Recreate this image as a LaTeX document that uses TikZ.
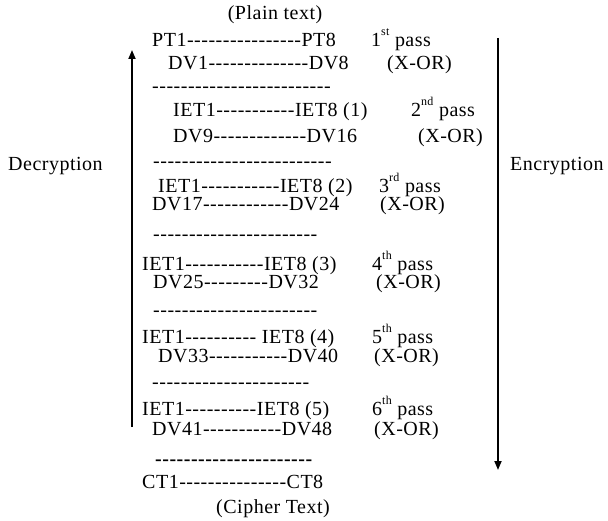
\documentclass[tikz,border=0pt]{standalone}
\usepackage{fontspec}
\newfontfamily\tnr[LetterSpace=2.5]{Liberation Serif}
\usetikzlibrary{arrows.meta}
\newcommand{\sps}[1]{\raisebox{0.55em}{\fontsize{12}{12}\selectfont #1}}
\tikzset{
  txt/.style={anchor=base west, inner sep=0pt, font=\fontsize{20}{22}\selectfont\tnr},
  ctxt/.style={anchor=base, inner sep=0pt, font=\fontsize{20}{22}\selectfont\tnr},
  flow/.style={line width=1.8pt, -{Triangle[length=9pt,width=7pt]}}
}
\begin{document}
\begin{tikzpicture}[x=1pt,y=-1pt]
\useasboundingbox (0,0) rectangle (608,521);
% left column
\node[ctxt] (plain) at (275,20) {(Plain text)};
\node[txt] (pt)   at (152,46.6)  {PT1----------------PT8};
\node[txt] (dv1)  at (168,69.6)  {DV1--------------DV8};
\node[txt] (s1)   at (152,93) {-------------------------};
\node[txt] (iet1) at (173,117) {IET1-----------IET8 (1)};
\node[txt] (dv9)  at (173,142.6) {DV9-------------DV16};
\node[txt] (s2)   at (153,168) {-------------------------};
\node[txt] (iet2) at (158,192.5) {IET1-----------IET8 (2)};
\node[txt] (dv17) at (152,211) {DV17------------DV24};
\node[txt] (s3)   at (153,241) {-----------------------};
\node[txt] (iet3) at (142,270.5) {IET1-----------IET8 (3)};
\node[txt] (dv25) at (153,289) {DV25---------DV32};
\node[txt] (s4)   at (153,316.5) {-----------------------};
\node[txt] (iet4) at (142,343.6) {IET1---------- IET8 (4)};
\node[txt] (dv33) at (158,362.5) {DV33-----------DV40};
\node[txt] (s5)   at (152,388.5) {----------------------};
\node[txt] (iet5) at (142,415.6) {IET1----------IET8 (5)};
\node[txt] (dv41) at (152,435.6) {DV41-----------DV48};
\node[txt,font=\fontsize{20}{22}\selectfont\tnr\bfseries] (s6) at (155,465.5) {----------------------};
\node[txt] (ct)   at (142,488.6) {CT1---------------CT8};
\node[ctxt] (cipher) at (273,513) {(Cipher Text)};
% right column
\node[txt] (p1) at (371,46.6)  {1\sps{st} pass};
\node[txt] (x1) at (387,69.6)  {(X-OR)};
\node[txt] (p2) at (411,117) {2\sps{nd} pass};
\node[txt] (x2) at (418,142.6) {(X-OR)};
\node[txt] (p3) at (379,192.5) {3\sps{rd} pass};
\node[txt] (x3) at (380,211) {(X-OR)};
\node[txt] (p4) at (372,270.5) {4\sps{th} pass};
\node[txt] (x4) at (376,289) {(X-OR)};
\node[txt] (p5) at (372,343.6) {5\sps{th} pass};
\node[txt] (x5) at (374,362.5) {(X-OR)};
\node[txt] (p6) at (372,415.6) {6\sps{th} pass};
\node[txt] (x6) at (374,435.6) {(X-OR)};
% side labels
\node[txt] (dec) at (8,171) {Decryption};
\node[txt] (enc) at (510,171) {Encryption};
% arrows
\coordinate (decb) at (132,427);
\coordinate (dect) at (132,50);
\coordinate (enct) at (498,38);
\coordinate (encb) at (498,470);
\draw[flow] (decb) -- (dect);
\draw[flow] (enct) -- (encb);
\end{tikzpicture}
\end{document}
